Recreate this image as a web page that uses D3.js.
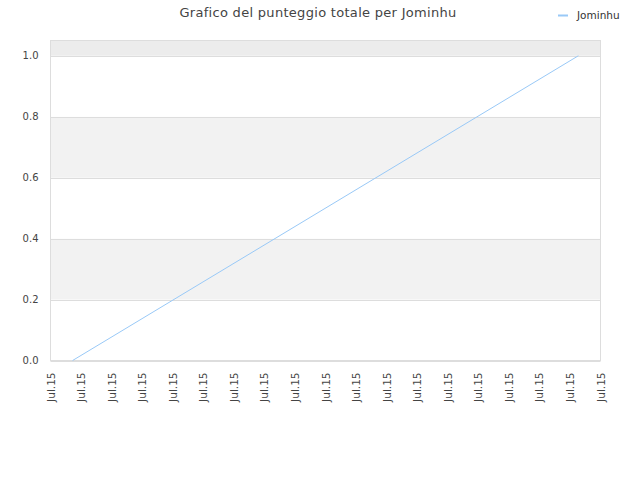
<!DOCTYPE html>
<html><head><meta charset="utf-8">
<script src="https://cdn.jsdelivr.net/npm/d3@7"></script>
<style>body{margin:0;background:#fff}svg{display:block}text{font-family:"DejaVu Sans",sans-serif}</style>
</head><body>
<script>
const title = "Grafico del punteggio totale per Jominhu";
const seriesName = "Jominhu";
const xPoints = [0, 1];
const yValues = [0, 1];
const xTickLabels = ["Jul.15","Jul.15","Jul.15","Jul.15","Jul.15","Jul.15","Jul.15","Jul.15","Jul.15","Jul.15","Jul.15","Jul.15","Jul.15","Jul.15","Jul.15","Jul.15","Jul.15","Jul.15","Jul.15"];
const yTicks = [0, 0.2, 0.4, 0.6, 0.8, 1.0];

const W = 640, H = 480;
const m = {left: 50.5, right: 600.5, top: 40.5, bottom: 360.5};
const svg = d3.select("body").append("svg").attr("width", W).attr("height", H);

const pad = 0.0437;
const x = d3.scaleLinear().domain([-pad, 1 + pad]).range([m.left, m.right]);
const y = d3.scaleLinear().domain([0, 1.05]).range([m.bottom, m.top]);

// bands
const bands = [[0,0.2,"#ffffff"],[0.2,0.4,"#f2f2f2"],[0.4,0.6,"#ffffff"],[0.6,0.8,"#f2f2f2"],[0.8,1.0,"#ffffff"],[1.0,1.05,"#ececec"]];
svg.append("g").selectAll("rect").data(bands).join("rect")
  .attr("x", m.left).attr("width", m.right - m.left)
  .attr("y", d => y(d[1])).attr("height", d => y(d[0]) - y(d[1]))
  .attr("fill", d => d[2]);

// grid
svg.append("g").selectAll("line").data(yTicks).join("line")
  .attr("x1", m.left).attr("x2", m.right)
  .attr("y1", d => Math.round(y(d)) + 0.5).attr("y2", d => Math.round(y(d)) + 0.5)
  .attr("stroke", "#dddddd");

// border
svg.append("rect").attr("x", m.left).attr("y", m.top)
  .attr("width", m.right - m.left).attr("height", m.bottom - m.top)
  .attr("fill", "none").attr("stroke", "#dddddd");

// y axis
const yAxis = d3.axisLeft(y).tickValues(yTicks).tickFormat(d3.format(".1f")).tickSize(0).tickPadding(12);
const gy = svg.append("g").attr("transform", `translate(${m.left},0)`).call(yAxis);
gy.select(".domain").remove();
gy.selectAll("text").attr("fill", "#444").style("font-size", "10px");

// x axis
const xt = d3.scalePoint().domain(d3.range(xTickLabels.length)).range([m.left, m.right]);
const gx = svg.append("g");
gx.selectAll("text").data(xTickLabels).join("text")
  .attr("transform", (d, i) => `translate(${xt(i) + 4},${m.bottom + 12}) rotate(-90)`)
  .attr("text-anchor", "end")
  .attr("fill", "#444").style("font-size", "10.5px")
  .text(d => d);

// line
const data = xPoints.map((v, i) => [v, yValues[i]]);
svg.append("path").datum(data)
  .attr("d", d3.line().x(d => x(d[0])).y(d => y(d[1])))
  .attr("fill", "none").attr("stroke", "#99c9f7").attr("stroke-width", 1);

// title
svg.append("text").attr("x", 318).attr("y", 17).attr("text-anchor", "middle")
  .attr("fill", "#444").style("font-size", "13px").style("letter-spacing", "0.3px").text(title);

// legend
svg.append("line").attr("x1", 558).attr("x2", 568).attr("y1", 15.5).attr("y2", 15.5)
  .attr("stroke", "#99c9f7").attr("stroke-width", 2);
svg.append("text").attr("x", 577).attr("y", 19).attr("fill", "#333")
  .style("font-size", "10.5px").text(seriesName);
</script>
</body></html>
